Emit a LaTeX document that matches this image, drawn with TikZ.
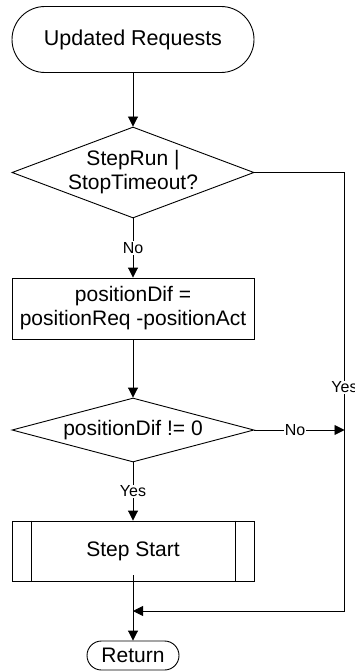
\documentclass[tikz,border=0pt]{standalone}
\usepackage{fontspec}
\setmainfont{Liberation Sans}
\usetikzlibrary{shapes.geometric,arrows.meta}
\begin{document}
\begin{tikzpicture}[x=1pt,y=-1pt,
  every node/.style={font=\fontsize{21}{24}\selectfont},
  flow/.style={line width=0.9pt},
  arr/.style={flow,-{Triangle[length=10pt,width=10pt]}},
  terminal/.style={draw,line width=0.9pt,rounded corners=#1,inner sep=0pt},
  decision/.style={draw,line width=0.9pt,diamond,inner sep=0pt},
  process/.style={draw,line width=0.9pt,rectangle,inner sep=0pt,minimum width=242pt},
  lbl/.style={fill=white,inner sep=1pt,font=\fontsize{16}{18}\selectfont}]
\useasboundingbox (0,0) rectangle (355,671);

% shapes
\node[terminal=33pt,minimum width=242pt,minimum height=66pt,font=\fontsize{21.5}{24}\selectfont] (start) at (133,39.5) {Updated Requests};
\node[decision,minimum width=242pt,minimum height=91pt] (d1) at (133,172.5) {};
\node[align=center] (d1t) at (d1.center) {StepRun |\\StopTimeout?};
\node[process,minimum height=61pt,align=center] (calc) at (133,308.5) {positionDif =\\positionReq -positionAct};
\node[decision,minimum width=242pt,minimum height=64pt] (d2) at (133,430) {};
\node (d2t) at (d2.center) {positionDif != 0};
\node[process,minimum height=60pt] (step) at (133,551) {Step Start};
\draw[line width=0.9pt] ([xshift=20pt]step.north west) -- ([xshift=20pt]step.south west);
\draw[line width=0.9pt] ([xshift=-19pt]step.north east) -- ([xshift=-19pt]step.south east);
\node[terminal=14.5pt,minimum width=92pt,minimum height=29pt] (ret) at (133,655.5) {Return};

% routing points
\coordinate (c1) at (344.5,172.5);
\coordinate (c2) at (344.5,430);
\coordinate (c3) at (344.5,611);
\coordinate (j) at (133,611);

% connectors
\draw[arr] (start) -- (d1);
\draw[arr] (d1) -- node[lbl,pos=0.5] {No} (calc);
\draw[arr] (calc) -- (d2);
\draw[arr] (d2) -- node[lbl,pos=0.5] {Yes} (step);
\draw[arr] ([yshift=6pt]step.south) -- (ret);
\draw[flow] (d1.east) -- (c1) -- node[lbl,pos=0.49] {Yes} (c3);
\draw[arr] (c3) -- (j);
\draw[arr] (d2.east) -- node[lbl,pos=0.45] {No} (c2);
\end{tikzpicture}
\end{document}
